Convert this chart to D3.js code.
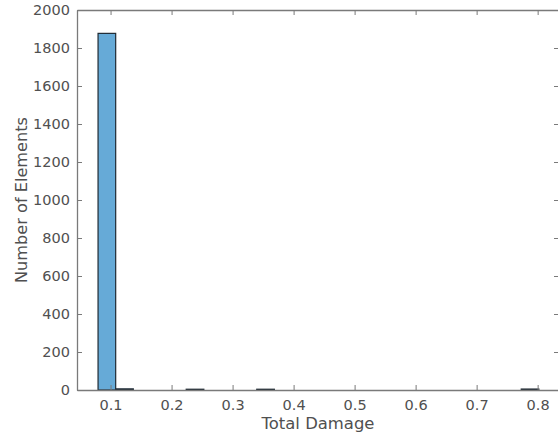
<!DOCTYPE html>
<html><head><meta charset="utf-8">
<script src="https://cdn.jsdelivr.net/npm/d3@7"></script>
<style>body{margin:0;background:#fff}svg{display:block}</style>
</head><body>
<svg id="c" width="558" height="438"></svg>
<script>
const binEdges = [0.0795,0.1084,0.1373,0.1662,0.1951,0.2240,0.2529,0.2818,0.3107,0.3396,0.3685,0.3974,0.4263,0.4552,0.4841,0.5130,0.5419,0.5708,0.5997,0.6286,0.6575,0.6864,0.7153,0.7442,0.7731,0.8020];
const binCounts = [1877,6,0,0,0,4,0,0,0,4,0,0,0,0,0,0,0,0,0,0,0,0,0,0,5];
const xTicks = [0.1,0.2,0.3,0.4,0.5,0.6,0.7,0.8];
const yTicks = [0,200,400,600,800,1000,1200,1400,1600,1800,2000];
const xLabel = "Total Damage";
const yLabel = "Number of Elements";

const svg = d3.select("#c");
const L = 77, R = 559, T = 10, B = 390;
const x = d3.scaleLinear().domain([0.045, 0.835]).range([L, R]);
const y = d3.scaleLinear().domain([0, 2000]).range([B, T]);
const font = "'DejaVu Sans', sans-serif";
const axisCol = "#7a7a7a", textCol = "#505050";

const bins = binCounts.map((c, i) => ({x0: binEdges[i], x1: binEdges[i+1], c})).filter(d => d.c > 0);
svg.append("g").selectAll("rect").data(bins).join("rect")
  .attr("x", d => x(d.x0)).attr("width", d => x(d.x1) - x(d.x0))
  .attr("y", d => y(d.c)).attr("height", d => y(0) - y(d.c))
  .attr("fill", "#66aad7").attr("stroke", "#1f2a33").attr("stroke-width", 1.2);

function styleAxis(g){
  g.select(".domain").attr("stroke", axisCol).attr("stroke-width", 1.3);
  g.selectAll(".tick line").attr("stroke", axisCol);
  g.selectAll(".tick text").attr("fill", textCol).attr("font-family", font).attr("font-size", 14.5);
}
svg.append("g").attr("transform", `translate(0,${B})`)
  .call(d3.axisBottom(x).tickValues(xTicks).tickFormat(d3.format(".1f")).tickSizeInner(-5).tickSizeOuter(0).tickPadding(10))
  .call(styleAxis);
svg.append("g").attr("transform", `translate(0,${T})`)
  .call(d3.axisTop(x).tickValues(xTicks).tickFormat("").tickSizeInner(-5).tickSizeOuter(0))
  .call(styleAxis);
svg.append("g").attr("transform", `translate(${L},0)`)
  .call(d3.axisLeft(y).tickValues(yTicks).tickFormat(d3.format("d")).tickSizeInner(-5).tickSizeOuter(0).tickPadding(7))
  .call(styleAxis);
svg.append("g").attr("transform", `translate(${R},0)`)
  .call(d3.axisRight(y).tickValues(yTicks).tickFormat("").tickSizeInner(-5).tickSizeOuter(0))
  .call(styleAxis);

function fitText(sel, target){
  const len = sel.node().getComputedTextLength();
  sel.attr("font-size", 14 * target / len);
}
const xl = svg.append("text").attr("x", 318).attr("y", 429).attr("text-anchor", "middle")
  .attr("font-family", font).attr("font-size", 14).attr("fill", textCol).text(xLabel);
fitText(xl, 113);
const yl = svg.append("text").attr("transform", "translate(27,200) rotate(-90)").attr("text-anchor", "middle")
  .attr("font-family", font).attr("font-size", 14).attr("fill", textCol).text(yLabel);
fitText(yl, 166);
</script>
</body></html>
